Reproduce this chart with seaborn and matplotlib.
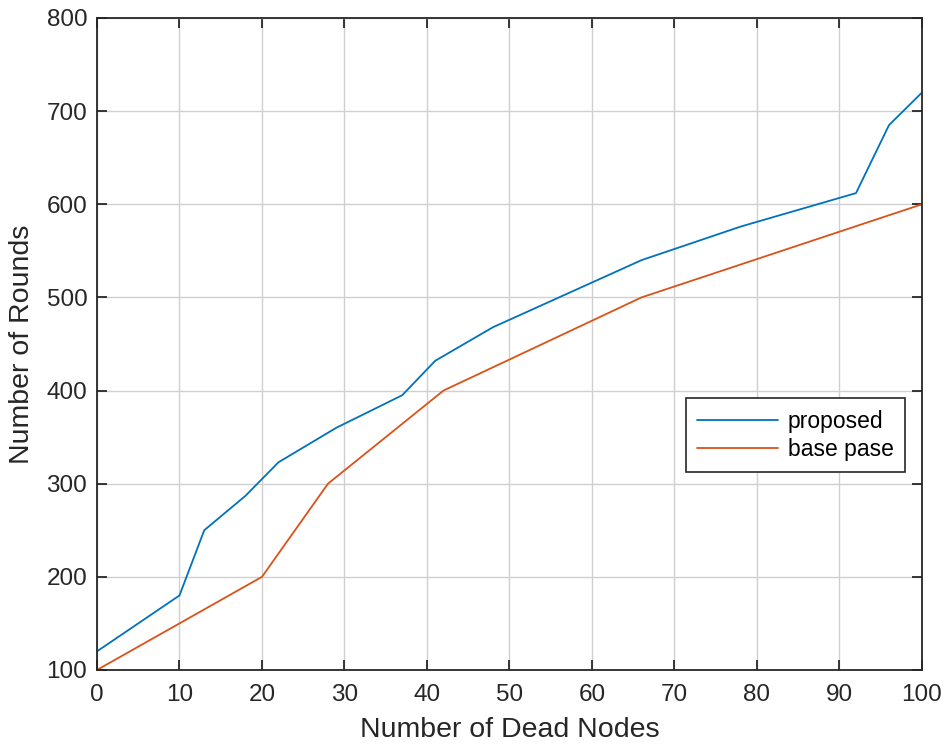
import numpy as np
import pandas as pd
import matplotlib
matplotlib.use("Agg")
import matplotlib.pyplot as plt
import seaborn as sns

# Network lifetime: rounds completed vs. number of dead nodes
proposed_x = [0, 10, 13, 18, 22, 29, 37, 41, 48, 66, 78, 92, 96, 100]
proposed_y = [120, 180, 250, 287, 323, 360, 395, 432, 468, 540, 576, 612, 685, 720]
base_x = [0, 20, 28, 42, 66, 100]
base_y = [100, 200, 300, 400, 500, 600]
series_names = ["proposed", "base pase"]
x_ticks = list(range(0, 101, 10))
y_ticks = list(range(100, 801, 100))

df = pd.concat([
    pd.DataFrame({"dead": proposed_x, "rounds": proposed_y, "method": series_names[0]}),
    pd.DataFrame({"dead": base_x, "rounds": base_y, "method": series_names[1]}),
], ignore_index=True)

sns.set_theme(style="white")
plt.rcParams["font.family"] = ["Liberation Sans", "DejaVu Sans"]

text_color = "#262626"
fig = plt.figure(figsize=(9.47, 7.5), dpi=100)
ax = fig.add_axes([0.1024, 0.1067, 0.8712, 0.8693])

sns.lineplot(data=df, x="dead", y="rounds", hue="method", hue_order=series_names,
             palette=["#0072BD", "#D95319"], linewidth=1.3, sort=False,
             estimator=None, ax=ax, legend=True)

ax.set_xlim(0, 100)
ax.set_ylim(100, 800)
ax.set_xticks(x_ticks)
ax.set_yticks(y_ticks)
ax.grid(True, color="#d0d0d0", linewidth=1.0)
ax.set_axisbelow(True)

for side in ["left", "right", "top", "bottom"]:
    ax.spines[side].set_visible(True)
    ax.spines[side].set_color(text_color)
    ax.spines[side].set_linewidth(1.3)

ax.tick_params(direction="in", length=7, width=1.3, colors=text_color,
               labelsize=17.5, top=True, right=True, bottom=True, left=True,
               labelcolor=text_color)
ax.tick_params(axis="x", pad=10)
ax.tick_params(axis="y", pad=7)

ax.set_xlabel("Number of Dead Nodes", fontsize=20.5, color=text_color, labelpad=8)
ax.set_ylabel("Number of Rounds", fontsize=20.5, color=text_color, labelpad=8)

leg = ax.legend(title=None, loc="upper left", bbox_to_anchor=(0.714, 0.417),
                fontsize=16.5, frameon=True, fancybox=False, framealpha=1,
                handlelength=3.5, handletextpad=0.45, borderpad=0.5,
                labelspacing=0.22, borderaxespad=0)
leg.get_frame().set_edgecolor(text_color)
leg.get_frame().set_linewidth(1.2)
for t in leg.get_texts():
    t.set_color("black")

fig.savefig("out.png", dpi=100)
